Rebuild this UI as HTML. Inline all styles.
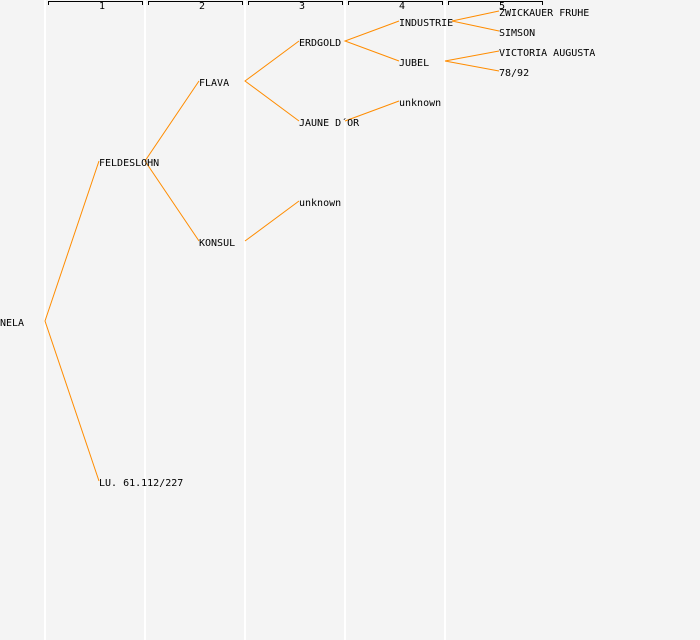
<!DOCTYPE html>
<html><head><style>
body{margin:0;background:#f4f4f4;}
svg{display:block}
text{font-family:"DejaVu Sans Mono","Liberation Mono",monospace;font-size:10px;fill:#000}
</style></head><body>
<svg width="700" height="640" xmlns="http://www.w3.org/2000/svg">
<rect width="700" height="640" fill="#f4f4f4"/>
<g stroke="#ffffff" stroke-width="2">
<line x1="45" y1="0" x2="45" y2="640"/><line x1="145" y1="0" x2="145" y2="640"/>
<line x1="245" y1="0" x2="245" y2="640"/><line x1="345" y1="0" x2="345" y2="640"/>
<line x1="445" y1="0" x2="445" y2="640"/>
</g>
<g stroke="#000" fill="none" stroke-width="1">
<path d="M48.5 5V1.5H142.5V5"/><path d="M148.5 5V1.5H242.5V5"/><path d="M248.5 5V1.5H342.5V5"/>
<path d="M348.5 5V1.5H442.5V5"/><path d="M448.5 5V1.5H542.5V5"/>
</g>
<g style="font-size:8px" text-anchor="middle">
<text x="102" y="9">1</text><text x="202" y="9">2</text><text x="302" y="9">3</text><text x="402" y="9">4</text><text x="502" y="9">5</text>
</g>
<g stroke="#ff8c00" stroke-width="1" fill="none">
<path d="M99 161L45 321L99 481"/>
<path d="M199 81L145 161L199 241"/>
<path d="M299 41L245 81L299 121"/>
<path d="M245 241L299 201"/>
<path d="M399 21L345 41L399 61"/>
<path d="M345 121L399 101"/>
<path d="M499 11L452 21L499 31"/>
<path d="M499 51L445 61L499 71"/>
</g>
<g>
<text x="0" y="326">NELA</text>
<text x="99" y="166">FELDESLOHN</text>
<text x="99" y="486">LU. 61.112/227</text>
<text x="199" y="86">FLAVA</text>
<text x="199" y="246">KONSUL</text>
<text x="299" y="46">ERDGOLD</text>
<text x="299" y="126">JAUNE D´OR</text>
<text x="299" y="206">unknown</text>
<text x="399" y="26">INDUSTRIE</text>
<text x="399" y="66">JUBEL</text>
<text x="399" y="106">unknown</text>
<text x="499" y="16">ZWICKAUER FRUHE</text>
<text x="499" y="36">SIMSON</text>
<text x="499" y="56">VICTORIA AUGUSTA</text>
<text x="499" y="76">78/92</text>
</g>
</svg>
</body></html>
